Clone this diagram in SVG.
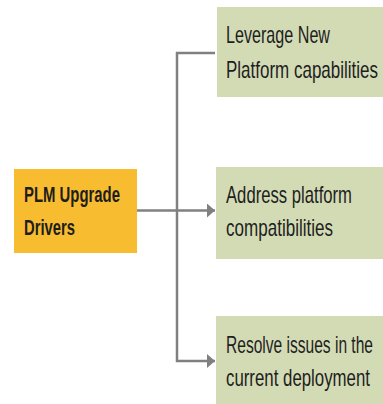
<svg xmlns="http://www.w3.org/2000/svg" width="383" height="404" viewBox="0 0 383 404">
<defs>
<style>
.green{fill:#d3dbb5}
.orange{fill:#f8bc30}
.t{font-family:"Liberation Sans","Open Sans",sans-serif;font-size:23px;fill:#1e1e1e}
.b{font-weight:bold;font-size:22px}
.c{fill:none;stroke:#808080;stroke-width:2.5}
</style>
<marker id="ah" markerWidth="8" markerHeight="14" refX="8" refY="7" orient="auto" markerUnits="userSpaceOnUse">
<path d="M0,0 L8,7 L0,14 Z" fill="#808080"/>
</marker>
</defs>
<rect width="383" height="404" fill="#ffffff"/>
<g id="connectors">
<line class="c" x1="137" y1="210.5" x2="215" y2="210.5" marker-end="url(#ah)"/>
<path class="c" d="M215,53 L177,53 L177,361 L215,361" marker-end="url(#ah)"/>
</g>
<g id="node-drivers">
<rect class="orange" x="14" y="169" width="123" height="84"/>
<g transform="translate(24,0) scale(0.75,1)">
<text class="t b" x="0" y="202" textLength="128" lengthAdjust="spacingAndGlyphs">PLM Upgrade</text>
<text class="t b" x="0" y="235" textLength="68" lengthAdjust="spacingAndGlyphs">Drivers</text>
</g>
</g>
<g id="node-leverage">
<rect class="green" x="217" y="7" width="166" height="90"/>
<g transform="translate(226,0) scale(0.75,1)">
<text class="t" x="0" y="43" textLength="138.7" lengthAdjust="spacingAndGlyphs">Leverage New</text>
<text class="t" x="0" y="78" textLength="202.7" lengthAdjust="spacingAndGlyphs">Platform capabilities</text>
</g>
</g>
<g id="node-address">
<rect class="green" x="216" y="167" width="167" height="92"/>
<g transform="translate(226,0) scale(0.75,1)">
<text class="t" x="0" y="203" textLength="168" lengthAdjust="spacingAndGlyphs">Address platform</text>
<text class="t" x="0" y="236" textLength="142.7" lengthAdjust="spacingAndGlyphs">compatibilities</text>
</g>
</g>
<g id="node-resolve">
<rect class="green" x="216" y="316" width="167" height="88"/>
<g transform="translate(226,0) scale(0.7,1)">
<text class="t" x="0" y="353" textLength="210" lengthAdjust="spacingAndGlyphs">Resolve issues in the</text>
<text class="t" x="0" y="386" textLength="205.7" lengthAdjust="spacingAndGlyphs">current deployment</text>
</g>
</g>
</svg>
